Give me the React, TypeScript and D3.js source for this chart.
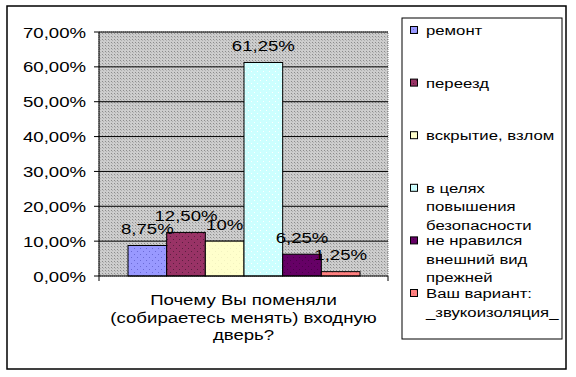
import React from 'react';
import * as d3 from 'd3';

const categories = [
  'ремонт',
  'переезд',
  'вскрытие, взлом',
  'в целях повышения безопасности',
  'не нравился внешний вид прежней',
  'Ваш вариант: _звукоизоляция_',
];
const values = [8.75, 12.5, 10, 61.25, 6.25, 1.25];
const valueLabels = ['8,75%', '12,50%', '10%', '61,25%', '6,25%', '1,25%'];
const legendLines = [
  ['ремонт'],
  ['переезд'],
  ['вскрытие, взлом'],
  ['в целях', 'повышения', 'безопасности'],
  ['не нравился', 'внешний вид', 'прежней'],
  ['Ваш вариант:', '_звукоизоляция_'],
];
const yTicks = [0, 10, 20, 30, 40, 50, 60, 70];
const yTickLabels = ['0,00%', '10,00%', '20,00%', '30,00%', '40,00%', '50,00%', '60,00%', '70,00%'];
const xTitle = ['Почему Вы поменяли', '(собираетесь менять) входную', 'дверь?'];

const fills = ['#9999ff', '#993366', '#ffffcc', '#ccffff', '#660066', '#ff8080'];
const dots = ['#6b6bd6', '#5c1f40', '#f2f2c0', '#ffffff', '#4a004a', '#e06a6a'];

const FONT = '"Liberation Sans", Arial, sans-serif';
const SX = 1.24;

function T({ x, y, children, size = 15, anchor = 'start' }: any) {
  return (
    <text
      transform={`translate(${x},${y}) scale(${SX},1)`}
      textAnchor={anchor}
      fontFamily={FONT}
      fontSize={size}
      fill="#000"
    >
      {children}
    </text>
  );
}

export default function App() {
  const W = 576, H = 377;
  const plot = { x0: 99, x1: 388, y0: 32, y1: 276 };
  const y = d3.scaleLinear().domain([0, 70]).range([plot.y1, plot.y0]);
  const groupPad = 29;
  const x = d3
    .scaleBand<number>()
    .domain(values.map((_, i) => i))
    .range([plot.x0 + groupPad, plot.x1 - groupPad + 1])
    .padding(0);

  const legend = { x0: 402, y0: 18, x1: 562, y1: 339 };
  const legendY = d3.scaleLinear().domain([0, 5]).range([30, 293]);
  const lineH = 18.5;

  return (
    <svg width={W} height={H} style={{ position: 'absolute', left: 0, top: 0 }}>
      <defs>
        <pattern id="bg" width="3" height="3" patternUnits="userSpaceOnUse">
          <rect width="3" height="3" fill="#cdcdcd" />
          <rect width="1" height="1" fill="#8c8c8c" />
          <rect x="1" y="1" width="1" height="1" fill="#b0b0b0" />
        </pattern>
        {fills.map((f, i) => (
          <pattern key={i} id={`p${i}`} width="6" height="6" patternUnits="userSpaceOnUse">
            <rect width="6" height="6" fill={f} />
            <rect x="2" y="2" width="1" height="1" fill={dots[i]} />
            <rect x="5" y="5" width="1" height="1" fill={dots[i]} />
          </pattern>
        ))}
      </defs>
      <rect x={0} y={0} width={W} height={H} fill="#fff" />
      <rect x={7} y={6} width={559} height={363} fill="#fff" stroke="#000" strokeWidth={1.5} />

      {/* plot area */}
      <rect
        x={plot.x0}
        y={plot.y0}
        width={plot.x1 - plot.x0}
        height={plot.y1 - plot.y0}
        fill="url(#bg)"
        stroke="#808080"
        strokeWidth={1}
        strokeDasharray="1,1"
      />
      {yTicks.map((t) =>
        t === 0 ? null : (
          <line key={t} x1={plot.x0} x2={plot.x1} y1={y(t)} y2={y(t)} stroke="#000" strokeWidth={1} />
        )
      )}

      {/* bars */}
      {values.map((v, i) => (
        <rect
          key={i}
          x={x(i)!}
          y={y(v)}
          width={x.bandwidth()}
          height={y(0) - y(v)}
          fill={`url(#p${i})`}
          stroke="#000"
          strokeWidth={1}
        />
      ))}

      {/* axes */}
      <line x1={plot.x0} x2={plot.x0} y1={plot.y0} y2={plot.y1 + 5} stroke="#000" />
      <line x1={plot.x0} x2={plot.x1} y1={plot.y1} y2={plot.y1} stroke="#000" />
      <line x1={plot.x1} x2={plot.x1} y1={plot.y1} y2={plot.y1 + 5} stroke="#000" />
      {yTicks.map((t, i) => (
        <g key={t}>
          <line x1={plot.x0 - 5} x2={plot.x0} y1={y(t)} y2={y(t)} stroke="#000" />
          <T x={86} y={y(t) + 5.5} anchor="end">
            {yTickLabels[i]}
          </T>
        </g>
      ))}

      {/* data labels */}
      {values.map((v, i) => (
        <T key={i} x={x(i)! + x.bandwidth() / 2} y={y(v) - 11.5} anchor="middle">
          {valueLabels[i]}
        </T>
      ))}

      {/* x title */}
      {xTitle.map((l, i) => (
        <T key={i} x={(plot.x0 + plot.x1) / 2} y={305 + i * 17.5} anchor="middle">
          {l}
        </T>
      ))}

      {/* legend */}
      <rect
        x={legend.x0}
        y={legend.y0}
        width={legend.x1 - legend.x0}
        height={legend.y1 - legend.y0}
        fill="#fff"
        stroke="#000"
        strokeWidth={1}
      />
      {categories.map((c, i) => {
        const ly = legendY(i);
        return (
          <g key={c}>
            <rect x={410.5} y={ly - 3.5} width={7} height={7} fill={`url(#p${i})`} stroke="#000" strokeWidth={1} />
            {legendLines[i].map((l, j) => (
              <T key={j} x={426} y={ly + 5 + j * lineH} size={13.5}>
                {l}
              </T>
            ))}
          </g>
        );
      })}
    </svg>
  );
}
